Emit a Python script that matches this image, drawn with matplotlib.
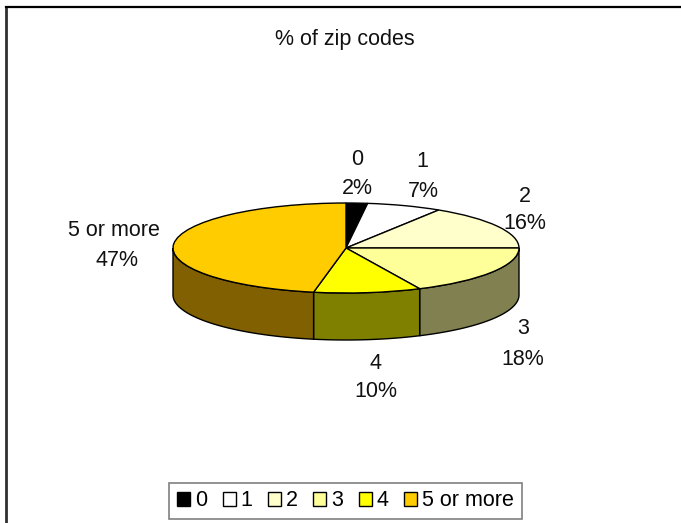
import numpy as np
import matplotlib
matplotlib.use('Agg')
import matplotlib.pyplot as plt
from matplotlib.patches import Polygon

plt.rcParams['font.family'] = ['Liberation Sans', 'DejaVu Sans']

W, H = 681, 523

categories = ['0', '1', '2', '3', '4', '5 or more']
shares = [2, 7, 16, 18, 10, 47]
top_colors = ['#000000', '#FFFFFF', '#FFFFCC', '#FFFF99', '#FFFF00', '#FFCC00']
side_colors = ['#000000', '#808080', '#808066', '#808050', '#808000', '#806000']

# label centres in pixels: name x, name y, percent x, percent y
label_pos = [
    (357, 158, 357, 187),
    (422, 160, 423, 190),
    (525, 195, 525, 222),
    (523, 327, 523, 358),
    (376, 362, 376, 390),
    (114, 229, 117, 259),
]

FS = 15.5
LW = 1.0


def px_text(fig, x, y, s):
    # va=center sits a bit high for this font, so push it down
    fig.text(x / W, 1 - (y + 1.5) / H, s, ha='center', va='center', fontsize=FS, color='#111111')


fig = plt.figure(figsize=(W / 100, H / 100), dpi=100, facecolor='white')

# ellipse of the pie top: x 173..519, y 203..293
ax = fig.add_axes([173 / W, 1 - 293 / H, 346 / W, 90 / H])
wedges, _ = ax.pie(shares, colors=top_colors, startangle=90, counterclock=False,
                   radius=1, wedgeprops={'edgecolor': 'black', 'linewidth': LW, 'zorder': 3})
ax.set_aspect('auto')
ax.set_xlim(-1, 1)
ax.set_ylim(-1, 1)
ax.axis('off')
for w in wedges:
    w.set_clip_on(False)

# side wall, only the front half (fraction .25 to .75 clockwise from the top) shows
depth = 47 / 45
edges = np.cumsum([0] + shares) / sum(shares)
for i in range(len(shares)):
    a = max(edges[i], 0.25)
    b = min(edges[i + 1], 0.75)
    if b <= a:
        continue
    t = np.linspace(a, b, 60) * 2 * np.pi
    x, y = np.sin(t), np.cos(t)
    pts = np.vstack([np.column_stack([x, y]), np.column_stack([x, y - depth])[::-1]])
    ax.add_patch(Polygon(pts, closed=True, facecolor=side_colors[i], edgecolor='black',
                         linewidth=LW, clip_on=False, zorder=1))

# chart border, only left and top lines are in the picture
fig.add_artist(plt.Line2D([6 / W, 6 / W], [0, 1 - 7 / H], color='#303030', lw=2))
fig.add_artist(plt.Line2D([6 / W, 1], [1 - 7 / H, 1 - 7 / H], color='black', lw=1.6))

px_text(fig, 345, 38, '% of zip codes')
for cat, val, (x1, y1, x2, y2) in zip(categories, shares, label_pos):
    px_text(fig, x1, y1, cat)
    px_text(fig, x2, y2, f'{val}%')

leg = fig.legend(wedges, categories, ncol=6, loc='center', fontsize=FS,
                 bbox_to_anchor=(345.5 / W, 1 - 501 / H), fancybox=False, framealpha=1,
                 edgecolor='#808080', handlelength=0.6, handleheight=0.6,
                 handletextpad=0.23, columnspacing=0.72, borderpad=0.37, borderaxespad=0)
leg.get_frame().set_linewidth(1.2)

fig.savefig('out.png', dpi=100, facecolor='white')
